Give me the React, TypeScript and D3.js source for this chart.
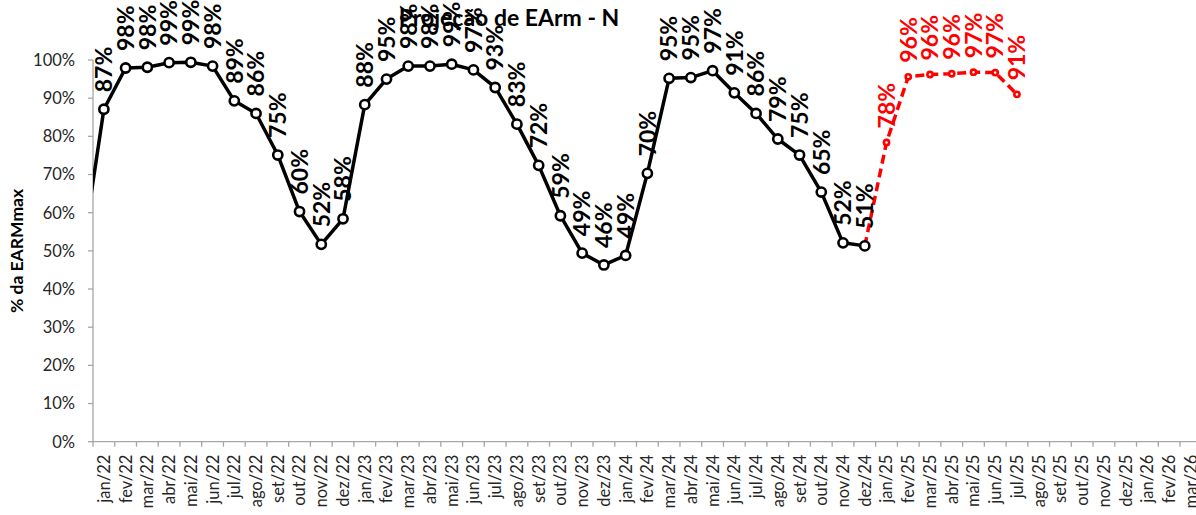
import React from "react";
import * as d3 from "d3";

const months = [
  "jan/22","fev/22","mar/22","abr/22","mai/22","jun/22","jul/22","ago/22","set/22","out/22","nov/22","dez/22",
  "jan/23","fev/23","mar/23","abr/23","mai/23","jun/23","jul/23","ago/23","set/23","out/23","nov/23","dez/23",
  "jan/24","fev/24","mar/24","abr/24","mai/24","jun/24","jul/24","ago/24","set/24","out/24","nov/24","dez/24",
  "jan/25","fev/25","mar/25","abr/25","mai/25","jun/25","jul/25","ago/25","set/25","out/25","nov/25","dez/25",
  "jan/26","fev/26","mar/26",
];

// value of the month before the first category (dez/21), line enters from the left edge
const prevValue = 0.49;

const observed = [
  0.871, 0.979, 0.981, 0.993, 0.994, 0.984, 0.893, 0.860, 0.751, 0.603, 0.517, 0.584,
  0.883, 0.950, 0.984, 0.984, 0.989, 0.974, 0.928, 0.832, 0.724, 0.592, 0.494, 0.463,
  0.488, 0.703, 0.952, 0.954, 0.972, 0.914, 0.860, 0.793, 0.751, 0.654, 0.521, 0.513,
];

// projection starts at dez/24 (index 35)
const projectionStart = 35;
const projection = [0.513, 0.784, 0.956, 0.962, 0.964, 0.968, 0.967, 0.910];

const yTicks = [0, 0.1, 0.2, 0.3, 0.4, 0.5, 0.6, 0.7, 0.8, 0.9, 1.0];

const title = "Projeção de EArm - N";
const yTitle = "% da EARMmax";

const W = 1196;
const H = 515;
const FONT = "Lato, 'Open Sans', sans-serif";

export default function App() {
  const left = 93;
  const step = 21.74;
  const x = d3.scaleBand<string>().domain(months).range([left, left + months.length * step]).padding(0);
  const y = d3.scaleLinear().domain([0, 1]).range([441.7, 60]);
  const bw = x.bandwidth();
  const cx = (i: number) => (x(months[i]) as number) + bw / 2;

  const obsPts: [number, number][] = [[cx(0) - step, y(prevValue)], ...observed.map((v, i) => [cx(i), y(v)] as [number, number])];
  const projPts: [number, number][] = projection.map((v, i) => [cx(projectionStart + i), y(v)]);
  const line = d3.line();

  const pct = d3.format(".0%");
  const bottom = y(0);

  return (
    <svg width={W} height={H} style={{ position: "absolute", left: 0, top: 0, background: "#fff" }} fontFamily={FONT}>
      <defs>
        <clipPath id="plot">
          <rect x={left} y={0} width={W - left} height={H} />
        </clipPath>
      </defs>
      {/* title */}
      <text x={509} y={26} textAnchor="middle" fontSize={23} fontWeight="bold" fill="#000">{title}</text>
      {/* y axis title */}
      <text transform={`translate(23,251) rotate(-90)`} textAnchor="middle" fontSize={17.5} fontWeight="bold" fill="#000">{yTitle}</text>

      {/* y axis */}
      <line x1={left} x2={left} y1={y(1)} y2={bottom} stroke="#a6a6a6" strokeWidth={1.3} />
      {yTicks.map((t) => (
        <g key={t}>
          <line x1={left - 5} x2={left} y1={y(t)} y2={y(t)} stroke="#a6a6a6" strokeWidth={1.3} />
          <text x={75} y={y(t)} dy="0.36em" textAnchor="end" fontSize={16.5} fill="#262626">{pct(t)}</text>
        </g>
      ))}

      {/* x axis */}
      <line x1={left} x2={left + months.length * step} y1={bottom} y2={bottom} stroke="#a6a6a6" strokeWidth={1.3} />
      {months.map((m, i) => (
        <g key={m}>
          <line x1={(x(m) as number)} x2={(x(m) as number)} y1={bottom} y2={bottom + 5} stroke="#a6a6a6" strokeWidth={1.3} />
          <text transform={`translate(${cx(i)},${bottom + 13}) rotate(-90)`} dy="0.36em" textAnchor="end" fontSize={16.5} fill="#262626">{m}</text>
        </g>
      ))}
      <line x1={left + months.length * step} x2={left + months.length * step} y1={bottom} y2={bottom + 5} stroke="#a6a6a6" strokeWidth={1.3} />

      {/* observed series */}
      <g clipPath="url(#plot)">
        <path d={line(obsPts) as string} fill="none" stroke="#000" strokeWidth={3.5} strokeLinejoin="round" />
      </g>
      {/* projection */}
      <path d={line(projPts) as string} fill="none" stroke="#ff0000" strokeWidth={3.5} strokeDasharray="9,5" />

      {observed.map((v, i) => (
        <circle key={"o" + i} cx={cx(i)} cy={y(v)} r={4.6} fill="#fff" stroke="#000" strokeWidth={2.6} />
      ))}
      {projection.map((v, i) =>
        i === 0 ? null : (
          <circle key={"p" + i} cx={cx(projectionStart + i)} cy={y(v)} r={2.6} fill="#fff" stroke="#ff0000" strokeWidth={2.6} />
        )
      )}

      {observed.map((v, i) => (
        <text key={"lo" + i} transform={`translate(${cx(i)},${y(v) - 17}) rotate(-90)`} dy="0.36em" fontSize={23} fontWeight="bold" fill="#000">{pct(v)}</text>
      ))}
      {projection.map((v, i) =>
        i === 0 ? null : (
          <text key={"lp" + i} transform={`translate(${cx(projectionStart + i)},${y(v) - 14}) rotate(-90)`} dy="0.36em" fontSize={23} fontWeight="bold" fill="#ff0000">{pct(v)}</text>
        )
      )}
    </svg>
  );
}
